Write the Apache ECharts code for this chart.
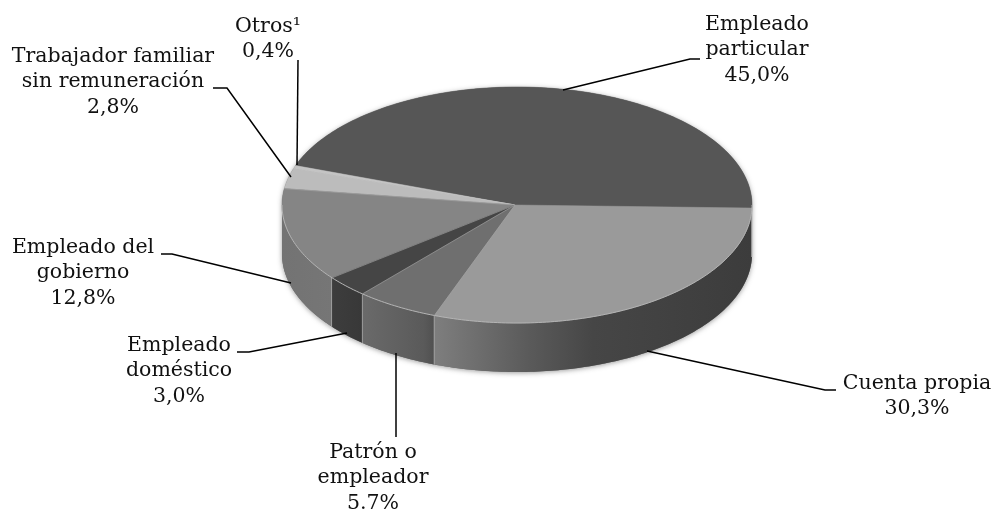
<!DOCTYPE html>
<html><head><meta charset="utf-8">
<style>html,body{margin:0;padding:0;background:#fff}#c{width:996px;height:510px}</style>
<script src="https://cdn.jsdelivr.net/npm/echarts@6/dist/echarts.min.js"></script>
</head><body><div id="c"></div>
<script>
const categories = ['Empleado\nparticular','Otros¹','Trabajador familiar\nsin remuneración','Empleado del\ngobierno','Empleado\ndoméstico','Patrón o\nempleador','Cuenta propia'];
const values = [45.0,0.4,2.8,12.8,3.0,5.7,30.3];
const valueLabels = ['45,0%','0,4%','2,8%','12,8%','3,0%','5.7%','30,3%'];

// Styling and layout (not data)
const topColors = ['#565656','#c4c4c4','#bcbcbc','#858585','#454545','#6f6f6f','#9a9a9a'];
const sideStops = [
  [[0,'#4a4a4a'],[1,'#3f3f3f']],
  [[0,'#aaa'],[1,'#aaa']],
  [[0,'#999'],[1,'#999']],
  [[0,'#737373'],[1,'#767676']],
  [[0,'#3d3d3d'],[1,'#383838']],
  [[0,'#6a6a6a'],[0.85,'#5a5a5a'],[1,'#505050']],
  [[0,'#7e7e7e'],[0.3,'#5a5a5a'],[0.5,'#464646'],[1,'#3c3c3c']]
];
const labelCenters = [[757,50],[268,39],[113,82],[83,273],[179,371],[373,478],[917,396]];
const leaders = [
  [[563,90],[690,59],[700,59]],
  [[297,165],[298,60]],
  [[291,177],[227,88],[213,88]],
  [[291,283],[172,254],[161,254]],
  [[347,333],[249,352],[237,352]],
  [[396,353],[396,437]],
  [[647,351],[825,390],[836,390]]
];
const CX=517, CY=205, RX=235, RY=118, DEPTH=49, START=-1.5;
const total = values.reduce((a,b)=>a+b,0);
const pt=(deg,dy=0)=>{const r=deg*Math.PI/180;return [CX+RX*Math.cos(r),CY-RY*Math.sin(r)+dy];};
const arc=(a,b,dy=0)=>{const n=Math.max(2,Math.ceil(Math.abs(b-a)));const o=[];for(let i=0;i<=n;i++)o.push(pt(a+(b-a)*i/n,dy));return o;};
const ranges=[];{let s=START;values.forEach(v=>{const e=s+v/total*360;ranges.push([s,e]);s=e;});}
const frontParts=(a,b)=>{const o=[];
  if(a<0){o.push([a,Math.min(b,0)]);}
  const l=Math.max(a,180),h=Math.min(b,360);
  if(h>l)o.push([l,h]);return o;};

const chart=echarts.init(document.getElementById('c'),null,{renderer:'canvas'});
chart.setOption({
  animation:false,
  backgroundColor:'#fff',
  series:[
    {type:'custom',coordinateSystem:'none',silent:true,data:[total],
     renderItem(){
       const outline=arc(START,180).concat(arc(180,360,DEPTH));
       return {type:'polygon',shape:{points:outline},
         style:{fill:'#666',shadowBlur:5,shadowOffsetY:1,shadowColor:'rgba(60,60,60,0.5)'}};
     }},
    {type:'custom',coordinateSystem:'none',silent:true,data:values,
     renderItem(params){
       const i=params.dataIndex,[a,b]=ranges[i],children=[];
       frontParts(a,b).forEach(([p,q])=>{
         children.push({type:'polygon',shape:{points:arc(p,q).concat(arc(q,p,DEPTH))},
           style:{fill:new echarts.graphic.LinearGradient(0,0,1,0,sideStops[i].map(s=>({offset:s[0],color:s[1]})))}});
         if(i>2&&i<7&&q<360){
           children.push({type:'line',shape:{x1:pt(q)[0],y1:pt(q)[1],x2:pt(q)[0],y2:pt(q,DEPTH)[1]},
             style:{stroke:'#bdbdbd',lineWidth:1.2}});
         }
       });
       children.push({type:'polygon',shape:{points:[[CX-2,CY]].concat(arc(a,b))},
         style:{fill:topColors[i],stroke:topColors[i],lineWidth:0.5}});
       if(i>=2){
         children.push({type:'polyline',shape:{points:[[CX-2,CY],pt(a)]},style:{stroke:i==2?'#c8c8c8':'#a8a8a8',lineWidth:0.8,fill:'none',opacity:0.7}});
       }
       frontParts(a,b).forEach(([p,q])=>{
         children.push({type:'polyline',shape:{points:arc(p,q)},style:{stroke:'#b4b4b4',lineWidth:1,fill:'none'}});
       });
       return {type:'group',children};
     }},
    {type:'custom',coordinateSystem:'none',silent:true,data:categories,z:5,
     renderItem(params){
       const i=params.dataIndex,c=labelCenters[i];
       return {type:'group',children:[
         {type:'polyline',shape:{points:leaders[i]},style:{stroke:'#000',lineWidth:1.5,fill:'none'}},
         {type:'text',x:c[0],y:c[1],style:{text:categories[i]+'\n'+valueLabels[i],
           font:'20.5px "DejaVu Serif"',fill:'#111',align:'center',verticalAlign:'middle',lineHeight:25.5}}
       ]};
     }}
  ]
});
</script></body></html>
